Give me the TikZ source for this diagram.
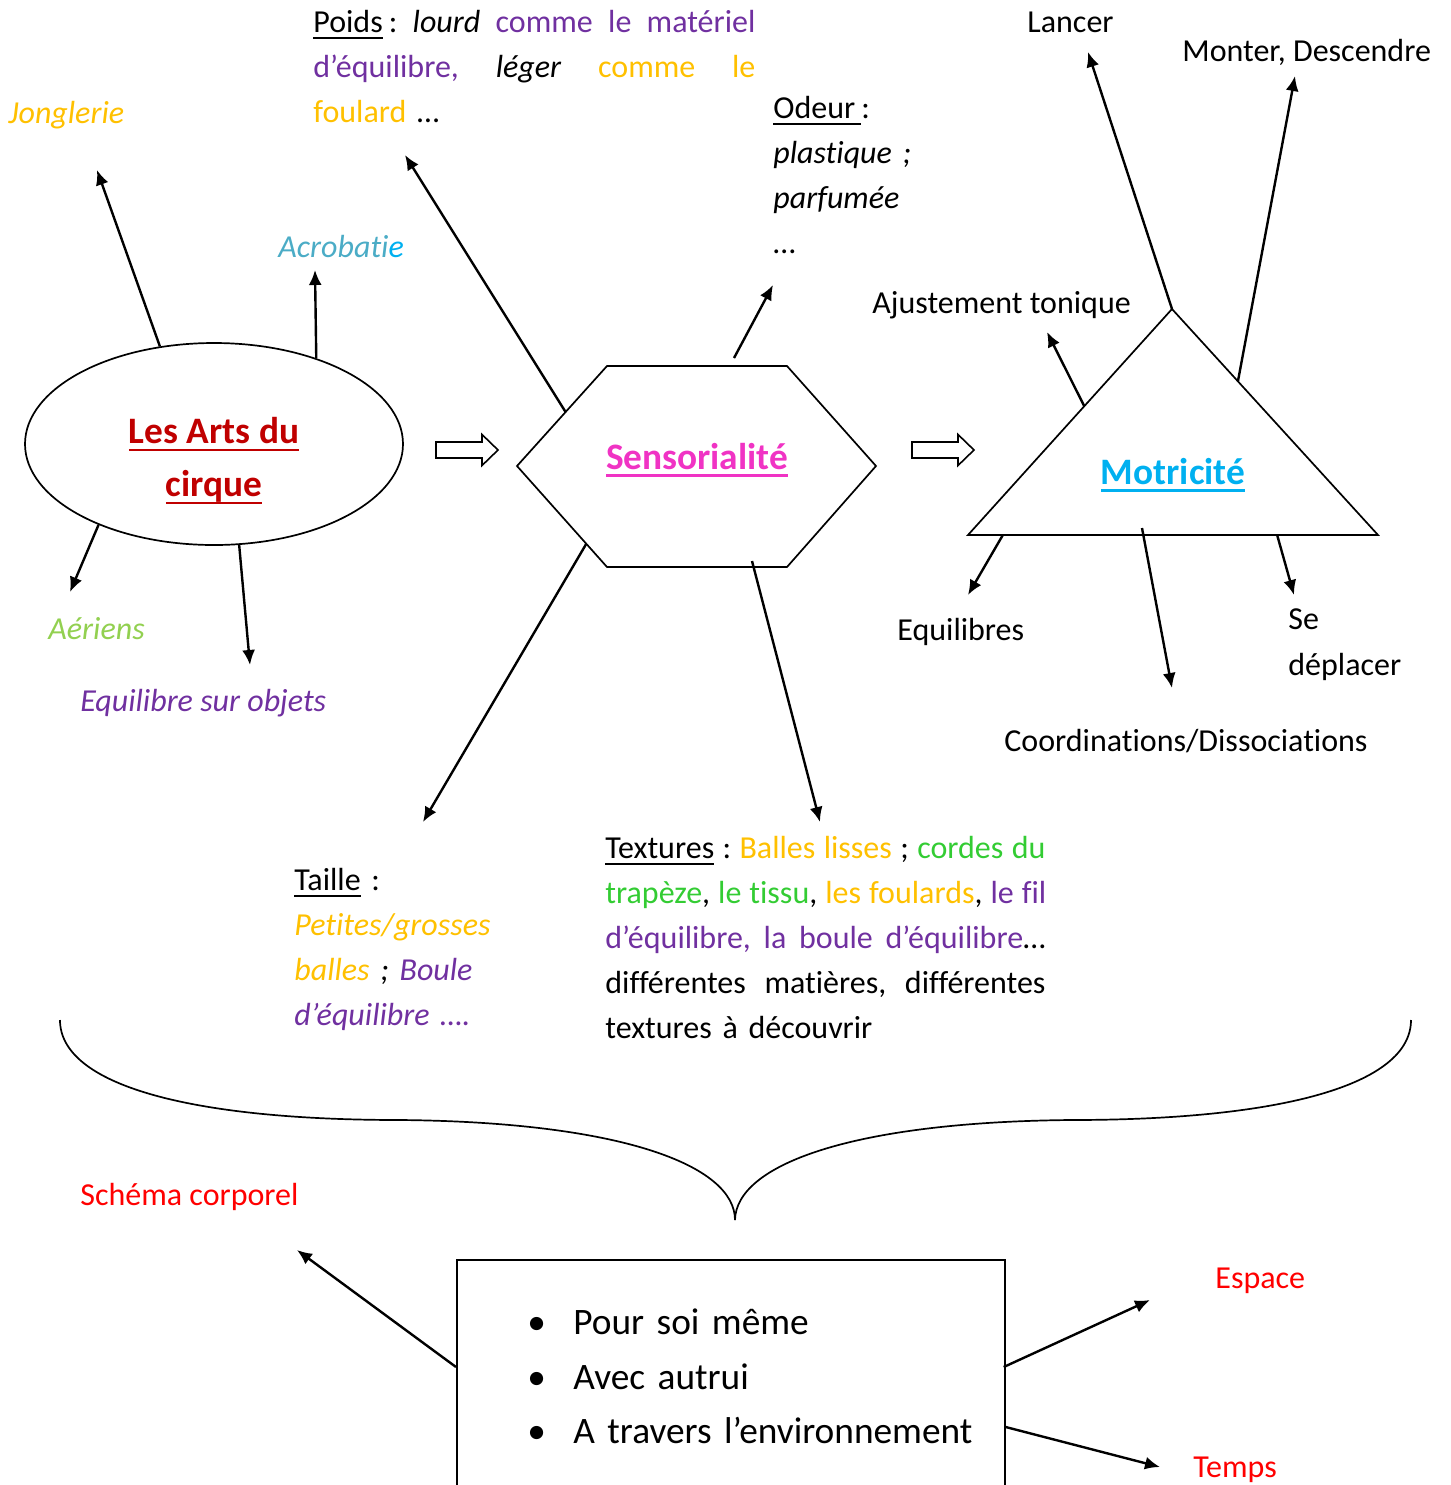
\documentclass[tikz,border=0pt]{standalone}
\usepackage{fontspec}
\setmainfont{Carlito}[Ligatures=NoCommon]
\usetikzlibrary{arrows.meta,shapes.geometric,calc}
\frenchspacing

\definecolor{cirque}{HTML}{C00000}
\definecolor{sens}{HTML}{F033C4}
\definecolor{motri}{HTML}{00B0F0}
\definecolor{ambre}{HTML}{FFC000}
\definecolor{violet}{HTML}{7030A0}
\definecolor{vert}{HTML}{33CC33}
\definecolor{vertclair}{HTML}{92D050}
\definecolor{acro}{HTML}{4BACC6}
\definecolor{rouge}{HTML}{FF0000}

% underline with a given thickness
\newsavebox{\soulbox}
\newcommand{\souligne}[2][0.9pt]{\sbox{\soulbox}{#2}\usebox{\soulbox}\llap{\rule[-0.2em]{\wd\soulbox}{#1}}}
% one justified line of a text block
\newcommand{\ligne}[1]{\hbox to\linewidth{\spaceskip=0.25em plus 1fil\relax #1}}
% hollow block arrow
\newcommand{\grossefleche}[2]{\draw[line width=0.8pt] (#1,#2-8) -- ++(46,0) -- ++(0,-7.5) -- ++(16,15.5) -- ++(-16,15.5) -- ++(0,-7.5) -- ++(-46,0) -- cycle;}

\begin{document}
\begin{tikzpicture}[x=0.5pt, y=-0.5pt,
    txt/.style={inner sep=0pt, anchor=base west, yshift=-1.25pt, font=\fontsize{16}{22.5}\selectfont},
    titre/.style={inner sep=0pt, yshift=-1.5pt, font=\fontsize{18.67}{26.5}\selectfont\bfseries},
    fleche/.style={-{Latex[length=7.5pt,width=6.5pt]}, line width=1.2pt},
    forme/.style={draw, line width=0.85pt}]

    \useasboundingbox (0,0) rectangle (1451,1485);
    \clip (0,0) rectangle (1451,1485);

    % Draw the three shapes
    \node[forme, ellipse, minimum width=189pt, minimum height=101pt, inner sep=0pt] (arts) at (214,444) {};
    \node[titre, text=cirque, align=center] (artstxt) at (214,458) {\souligne[1.3pt]{Les Arts du}\\\souligne[1.3pt]{cirque}};

    \draw[forme] (517,466) coordinate (h1) -- (607,366) coordinate (h2) -- (787,366) coordinate (h3)
        -- (876,466) coordinate (h4) -- (787,567) coordinate (h5) -- (607,567) coordinate (h6) -- cycle;
    \node[titre, text=sens] (sens) at (697,457) {\souligne[1.3pt]{Sensorialité}};

    \draw[forme] (968,535) coordinate (t1) -- (1172,309) coordinate (t2) -- (1378,535) coordinate (t3) -- cycle;
    \node[titre, text=motri] (motri) at (1173,472) {\souligne[1.3pt]{Motricité}};

    \grossefleche{436}{450}
    \grossefleche{912}{450}

    % Arts du cirque
    \node[txt, font=\fontsize{16}{22.5}\selectfont\itshape, text=ambre] (jong) at (8,121) {Jonglerie};
    \node[txt, font=\fontsize{16}{22.5}\selectfont\itshape] (acrob) at (278,255) {{\color{acro}Acrobati}{\color{motri}e}};
    \node[txt, font=\fontsize{16}{22.5}\selectfont\itshape, text=vertclair] (aeriens) at (48,637) {Aériens};
    \node[txt, font=\fontsize{16}{22.5}\selectfont\itshape, text=violet] (eqobj) at (80,709) {Equilibre sur objets};

    \draw[fleche] (arts.119) -- (97,170) coordinate (pJong);
    \draw[fleche] (arts.40) -- (315,270) coordinate (pAcrob);
    \draw[fleche] (arts.215) -- (70,592) coordinate (pAer);
    \draw[fleche] (arts.-76) -- (250,665) coordinate (pEqobj);

    % Sensorialite
    \node[txt, text width=221pt] (poids) at (313,30) {%
        \ligne{\souligne{Poids}\kern3pt: \textit{lourd} {\color{violet}comme le matériel}}\par
        \ligne{{\color{violet}d’équilibre,} \textit{léger} {\color{ambre}comme le}}\par
        \noindent{\color{ambre}foulard} …};
    \node[txt, text width=80pt, align=left] (odeur) at (773,116) {\souligne{Odeur\kern3pt}:\\\textit{plastique ;}\\\textit{parfumée}\\…};
    \node[txt, text width=110pt, align=left] (taille) at (294,888) {%
        \souligne{Taille} :\\
        {\itshape\color{ambre}Petites/grosses}\\
        {\itshape\color{ambre}balles} \textit{;} {\itshape\color{violet}Boule}\\
        {\itshape\color{violet}d’équilibre ….}};
    \node[txt, text width=220pt] (textures) at (605,856) {%
        \ligne{\souligne{Textures} : {\color{ambre}Balles lisses} ; {\color{vert}cordes du}}\par
        \ligne{{\color{vert}trapèze}, {\color{vert}le tissu}, {\color{ambre}les foulards}, {\color{violet}le fil}}\par
        \ligne{{\color{violet}d’équilibre, la boule d’équilibre}…}\par
        \ligne{différentes matières, différentes}\par
        \noindent textures à découvrir};

    \draw[fleche] ($(h1)!0.54!(h2)$) -- (405,155) coordinate (pPoids);
    \draw[fleche] (734,358) coordinate (sOdeur) -- (773,285) coordinate (pOdeur);
    \draw[fleche] ($(h6)!0.23!(h1)$) -- (423,822) coordinate (pTaille);
    \draw[fleche] (752,561) coordinate (sText) -- (820,822) coordinate (pText);

    % Motricite
    \node[txt] (lancer) at (1027,30) {Lancer};
    \node[txt] (monter) at (1182,59) {Monter, Descendre};
    \node[txt] (ajust) at (872,311) {Ajustement tonique};
    \node[txt] (equil) at (897,638) {Equilibres};
    \node[txt, text width=60pt, align=left, font=\fontsize{16}{23}\selectfont] (depl) at (1288,627) {Se\\déplacer};
    \node[txt] (coord) at (1004,749) {Coordinations/Dissociations};

    \draw[fleche] (t2) -- (1088,52) coordinate (pLancer);
    \draw[fleche] ($(t2)!0.32!(t3)$) -- (1295,76) coordinate (pMonter);
    \draw[fleche] ($(t1)!0.57!(t2)$) -- (1047,332) coordinate (pAjust);
    \draw[fleche] ($(t1)!0.085!(t3)$) -- (968,595) coordinate (pEquil);
    \draw[fleche] (1142,528) coordinate (sCoord) -- (1172,688) coordinate (pCoord);
    \draw[fleche] ($(t1)!0.754!(t3)$) -- (1294,595) coordinate (pDepl);

    % Brace
    \draw[forme] (60,1020) .. controls (60,1085) and (190,1120) .. (400,1120)
        .. controls (620,1122) and (735,1165) .. (735,1220);
    \draw[forme] (1411,1020) .. controls (1411,1085) and (1281,1120) .. (1071,1120)
        .. controls (851,1122) and (736,1165) .. (735,1220);

    % Box at the bottom
    \node[forme, rectangle, anchor=north west, minimum width=274pt, minimum height=160pt, inner sep=0pt] (boite) at (456,1259) {};
    \node[txt, text width=300pt, align=left, font=\fontsize{18.67}{27.25}\selectfont] (liste) at (527,1332) {%
        \makebox[23pt][l]{•}Pour soi même\\
        \makebox[23pt][l]{•}Avec autrui\\
        \makebox[23pt][l]{•}A travers l’environnement};

    \node[txt, text=rouge] (schema) at (80,1203) {Schéma corporel};
    \node[txt, text=rouge] (espace) at (1215,1286) {Espace};
    \node[txt, text=rouge] (temps) at (1193,1475) {Temps};

    \draw[fleche] ($(boite.north west)+(0,108)$) -- (297,1250) coordinate (pSchema);
    \draw[fleche] ($(boite.north east)+(-2,108)$) -- (1150,1300) coordinate (pEspace);
    \draw[fleche] ($(boite.north east)+(0,168)$) -- (1160,1467) coordinate (pTemps);
\end{tikzpicture}
\end{document}
